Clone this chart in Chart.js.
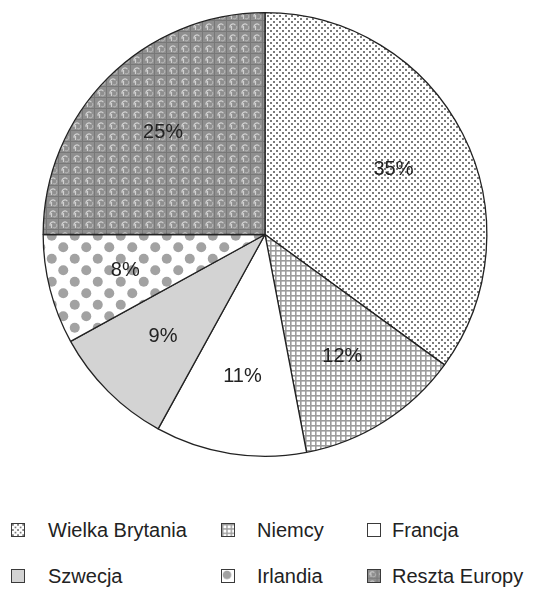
<!DOCTYPE html>
<html>
<head>
<meta charset="utf-8">
<script src="https://cdn.jsdelivr.net/npm/chart.js@4.4.1/dist/chart.umd.min.js"></script>
<style>
  body { margin: 0; background: #fff; font-family: "Liberation Sans", Arial, sans-serif; }
  #wrap { position: relative; width: 556px; height: 589px; }
  #pie { position: absolute; left: 0; top: 0; }
  .lg-text { position: absolute; font-size: 20px; line-height: 22px; color: #222; white-space: nowrap; }
  .lg-icon { position: absolute; width: 14px; height: 14px; box-sizing: border-box; border: 1.3px solid #3a3a3a; }
</style>
</head>
<body>
<div id="wrap">
  <canvas id="pie" width="556" height="470"></canvas>
  <div id="legend"></div>
</div>
<script>
var countries = ['Wielka Brytania', 'Niemcy', 'Francja', 'Szwecja', 'Irlandia', 'Reszta Europy'];
var shares = [35, 12, 11, 9, 8, 25];
var patternNames = ['fineDots', 'grid', 'white', 'lightGray', 'bigDots', 'texture'];

// legend placement (two rows, three columns)
var legendIconX = [11, 221, 367];
var legendTextX = [48, 257, 392];
var legendRowY = [530, 576];

function makeTile(name) {
  var c = document.createElement('canvas');
  var g;
  if (name === 'fineDots') {
    c.width = 6; c.height = 6;
    g = c.getContext('2d');
    g.fillStyle = '#fff'; g.fillRect(0, 0, 6, 6);
    g.fillStyle = '#7a7a7a';
    g.fillRect(0, 0, 2, 2);
    g.fillRect(3, 3, 2, 2);
  } else if (name === 'grid') {
    c.width = 5; c.height = 5;
    g = c.getContext('2d');
    g.fillStyle = '#fff'; g.fillRect(0, 0, 5, 5);
    g.fillStyle = '#9c9c9c';
    g.fillRect(0, 0, 5, 1.6);
    g.fillRect(0, 0, 1.6, 5);
  } else if (name === 'white') {
    c.width = 4; c.height = 4;
    g = c.getContext('2d');
    g.fillStyle = '#fff'; g.fillRect(0, 0, 4, 4);
  } else if (name === 'lightGray') {
    c.width = 4; c.height = 4;
    g = c.getContext('2d');
    g.fillStyle = '#d3d3d3'; g.fillRect(0, 0, 4, 4);
  } else if (name === 'bigDots') {
    c.width = 23; c.height = 23;
    g = c.getContext('2d');
    g.fillStyle = '#fff'; g.fillRect(0, 0, 23, 23);
    g.fillStyle = '#a2a2a2';
    g.beginPath(); g.arc(5.75, 5.75, 5, 0, Math.PI * 2); g.fill();
    g.beginPath(); g.arc(17.25, 17.25, 5, 0, Math.PI * 2); g.fill();
  } else {
    // knitted-looking grey texture
    c.width = 12; c.height = 11;
    g = c.getContext('2d');
    g.fillStyle = '#8f8f8f'; g.fillRect(0, 0, 12, 11);
    g.fillStyle = '#787878';
    g.fillRect(0, 9, 12, 1);
    g.fillRect(10, 0, 1, 11);
    g.strokeStyle = '#d2d2d2'; g.lineWidth = 1.2;
    g.beginPath(); g.arc(5, 5, 3, Math.PI * 0.9, Math.PI * 1.8); g.stroke();
    g.beginPath(); g.moveTo(3.5, 4); g.lineTo(3.5, 8); g.stroke();
    g.strokeStyle = '#b4b4b4';
    g.beginPath(); g.arc(6.5, 5.5, 2.3, -Math.PI * 0.2, Math.PI * 0.7); g.stroke();
  }
  return c;
}

var ctx = document.getElementById('pie').getContext('2d');
var fills = patternNames.map(function(n) { return ctx.createPattern(makeTile(n), 'repeat'); });

var sliceLabels = {
  id: 'sliceLabels',
  afterDatasetsDraw: function(chart) {
    var c = chart.ctx;
    var meta = chart.getDatasetMeta(0);
    c.save();
    c.font = '20px "Liberation Sans", Arial, sans-serif';
    c.fillStyle = '#222';
    c.textAlign = 'center';
    c.textBaseline = 'middle';
    meta.data.forEach(function(arc, i) {
      var p = arc.getProps(['x', 'y', 'startAngle', 'endAngle', 'outerRadius'], true);
      var mid = (p.startAngle + p.endAngle) / 2;
      var r = p.outerRadius * 0.65;
      c.fillText(shares[i] + '%', p.x + Math.cos(mid) * r, p.y + Math.sin(mid) * r);
    });
    c.restore();
  }
};

var chart = new Chart(ctx, {
  type: 'pie',
  data: {
    labels: countries,
    datasets: [{
      data: shares,
      backgroundColor: fills,
      borderColor: '#222',
      borderWidth: 1.3
    }]
  },
  options: {
    responsive: false,
    animation: false,
    layout: { padding: { top: 12, bottom: 13, left: 0, right: 26 } },
    plugins: {
      legend: { display: false },
      tooltip: { enabled: false }
    }
  },
  plugins: [sliceLabels]
});

// html legend, three per row
var legend = document.getElementById('legend');
countries.forEach(function(name, i) {
  var col = i % 3;
  var row = Math.floor(i / 3);
  var icon = document.createElement('canvas');
  icon.width = 14; icon.height = 14;
  icon.className = 'lg-icon';
  var g = icon.getContext('2d');
  g.fillStyle = g.createPattern(makeTile(patternNames[i]), 'repeat');
  g.fillRect(0, 0, 14, 14);
  icon.style.left = legendIconX[col] + 'px';
  icon.style.top = (legendRowY[row] - 7) + 'px';
  legend.appendChild(icon);

  var t = document.createElement('div');
  t.className = 'lg-text';
  t.textContent = name;
  t.style.left = legendTextX[col] + 'px';
  t.style.top = (legendRowY[row] - 11) + 'px';
  legend.appendChild(t);
});
</script>
</body>
</html>
